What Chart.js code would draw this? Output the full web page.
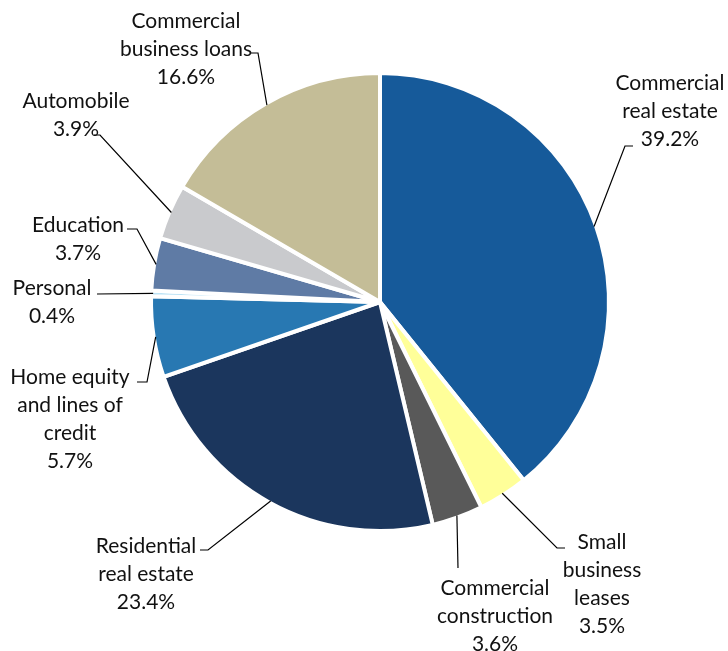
<!DOCTYPE html>
<html>
<head>
<meta charset="utf-8">
<script src="https://cdn.jsdelivr.net/npm/chart.js@4"></script>
<style>
  html, body { margin: 0; padding: 0; background: #fff; }
  #wrap { width: 728px; height: 651px; }
</style>
</head>
<body>
<div id="wrap"><canvas id="loanPie"></canvas></div>
<script>
const categories = ['Commercial real estate', 'Small business leases', 'Commercial construction',
  'Residential real estate', 'Home equity and lines of credit', 'Personal', 'Education',
  'Automobile', 'Commercial business loans'];
const shares = [39.2, 3.5, 3.6, 23.4, 5.7, 0.4, 3.7, 3.9, 16.6];
const labelLines = [
  ['Commercial', 'real estate'],
  ['Small', 'business', 'leases'],
  ['Commercial', 'construction'],
  ['Residential', 'real estate'],
  ['Home equity', 'and lines of', 'credit'],
  ['Personal'],
  ['Education'],
  ['Automobile'],
  ['Commercial', 'business loans'],
];
const sliceColors = ['#165A9A', '#FFFF99', '#595959', '#1B365D', '#2878B2', '#BDE3F5', '#5F7BA5', '#C9CACD', '#C4BD97'];

// label placement (text centre x, first line y) and leader bends
const labelAnchors = [[670, 83], [602, 542], [495, 588], [146, 546], [70, 377], [52, 288], [78, 225], [76, 101], [186, 21]];
const leaderBends = [
  [[625, 146], [633, 146]],
  [[557, 548], [565, 548]],
  [[458, 568]],
  [[208, 550], [200, 550]],
  [[147, 382], [137, 382]],
  [[97, 294]],
  [[137, 229], [127, 229]],
  [[100, 135], [94, 135]],
  [[258, 53], [251, 53]],
];

const lineHeight = 28;

const leaderLabels = {
  id: 'leaderLabels',
  afterDraw(chart) {
    const ctx = chart.ctx;
    const arcs = chart.getDatasetMeta(0).data;
    ctx.save();
    ctx.strokeStyle = '#000';
    ctx.lineWidth = 1.2;
    arcs.forEach((arc, i) => {
      const mid = (arc.startAngle + arc.endAngle) / 2;
      const r = arc.outerRadius - 2;
      ctx.beginPath();
      ctx.moveTo(arc.x + Math.cos(mid) * r, arc.y + Math.sin(mid) * r);
      leaderBends[i].forEach(p => ctx.lineTo(p[0], p[1]));
      ctx.stroke();
    });
    ctx.fillStyle = '#111';
    ctx.font = '21px Lato';
    ctx.textAlign = 'center';
    ctx.textBaseline = 'middle';
    arcs.forEach((arc, i) => {
      const lines = labelLines[i].concat([shares[i].toFixed(1) + '%']);
      const [x, y] = labelAnchors[i];
      lines.forEach((t, k) => ctx.fillText(t, x, y + k * lineHeight));
    });
    ctx.restore();
  }
};

new Chart(document.getElementById('loanPie'), {
  type: 'pie',
  data: {
    labels: categories,
    datasets: [{
      data: shares,
      backgroundColor: sliceColors,
      borderColor: '#fff',
      borderWidth: 4,
    }],
  },
  options: {
    responsive: true,
    maintainAspectRatio: false,
    animation: false,
    layout: { padding: { left: 149, right: 117, top: 71, bottom: 118 } },
    plugins: {
      legend: { display: false },
      tooltip: { enabled: false },
    },
  },
  plugins: [leaderLabels],
});
</script>
</body>
</html>
